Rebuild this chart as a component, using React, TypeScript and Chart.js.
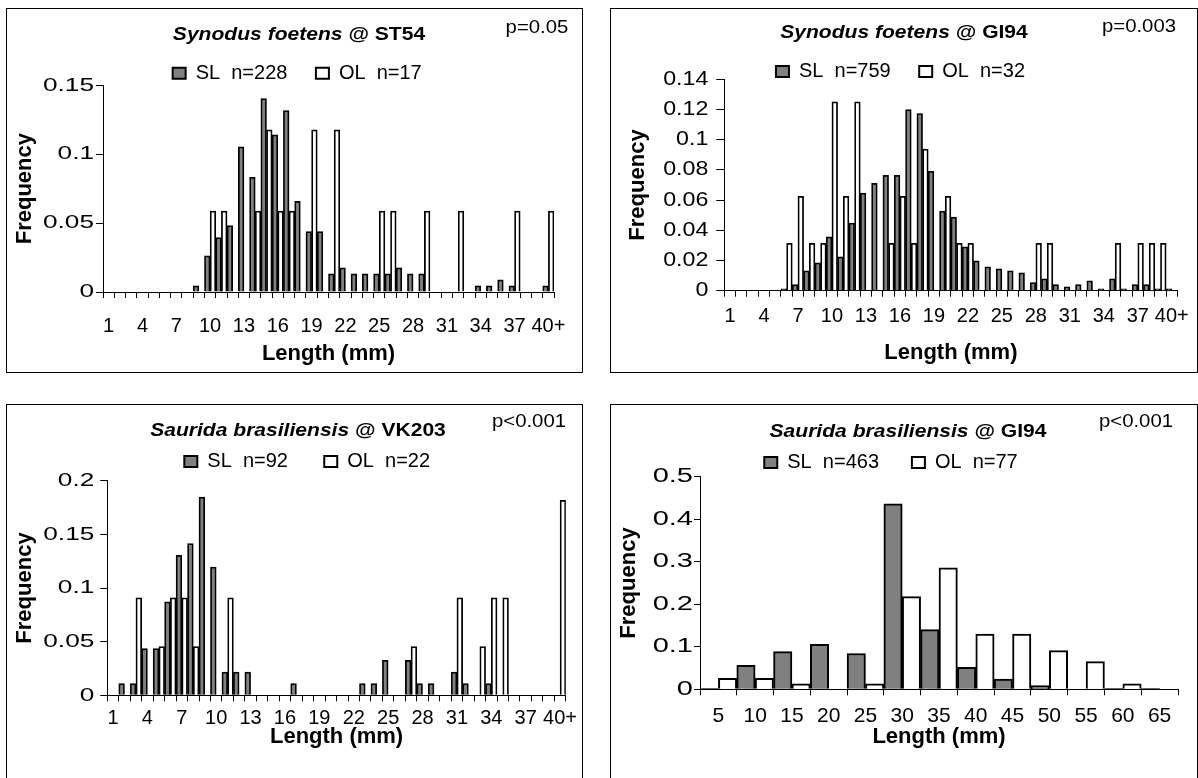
import { useEffect, useRef } from 'react';
import { Chart, registerables } from 'chart.js';

Chart.register(...registerables);

const FONT = '"Liberation Sans", Arial, Helvetica, sans-serif';
Chart.defaults.font.family = FONT;
Chart.defaults.color = '#000';

// 1 mm length classes (last class open-ended)
const lengthBins = [
  '1', '2', '3', '4', '5', '6', '7', '8', '9', '10',
  '11', '12', '13', '14', '15', '16', '17', '18', '19', '20',
  '21', '22', '23', '24', '25', '26', '27', '28', '29', '30',
  '31', '32', '33', '34', '35', '36', '37', '38', '39', '40+',
];
// 5 mm length classes
const lengthBins5 = ['5', '10', '15', '20', '25', '30', '35', '40', '45', '50', '55', '60', '65'];

// Synodus foetens @ ST54
const st54SL = [
  0, 0, 0, 0, 0, 0, 0, 0, 0.0044, 0.0263,
  0.0395, 0.0482, 0.1053, 0.0833, 0.1404, 0.114, 0.1316, 0.0658, 0.0439, 0.0439,
  0.0132, 0.0175, 0.0132, 0.0132, 0.0132, 0.0132, 0.0175, 0.0132, 0.0132, 0,
  0, 0, 0, 0.0044, 0.0044, 0.0088, 0.0044, 0, 0, 0.0044,
];
const st54OL = [
  0, 0, 0, 0, 0, 0, 0, 0, 0, 0.0588,
  0.0588, 0, 0, 0.0588, 0.1176, 0.0588, 0.0588, 0, 0.1176, 0,
  0.1176, 0, 0, 0, 0.0588, 0.0588, 0, 0, 0.0588, 0,
  0, 0.0588, 0, 0, 0, 0, 0.0588, 0, 0, 0.0588,
];

// Synodus foetens @ GI94
const sfGi94SL = [
  0, 0, 0, 0, 0, 0.0013, 0.004, 0.0132, 0.0184, 0.0356,
  0.0224, 0.0448, 0.0646, 0.0711, 0.0764, 0.0764, 0.1199, 0.1173, 0.0791, 0.0527,
  0.0487, 0.029, 0.0198, 0.0158, 0.0145, 0.0132, 0.0119, 0.0053, 0.0079, 0.004,
  0.0026, 0.004, 0.0066, 0.0013, 0.0079, 0.0013, 0.004, 0.004, 0.0013, 0.0013,
];
const sfGi94OL = [
  0, 0, 0, 0, 0, 0.0313, 0.0625, 0.0313, 0.0313, 0.125,
  0.0625, 0.125, 0, 0, 0.0313, 0.0625, 0.0313, 0.0938, 0, 0.0625,
  0.0313, 0.0313, 0, 0, 0, 0, 0, 0.0313, 0.0313, 0,
  0, 0, 0, 0, 0.0313, 0, 0.0313, 0.0313, 0.0313, 0,
];

// Saurida brasiliensis @ VK203
const vk203SL = [
  0, 0.0109, 0.0109, 0.0435, 0.0435, 0.087, 0.1304, 0.1413, 0.1848, 0.1196,
  0.0217, 0.0217, 0.0217, 0, 0, 0, 0.0109, 0, 0, 0,
  0, 0, 0.0109, 0.0109, 0.0326, 0, 0.0326, 0.0109, 0.0109, 0,
  0.0217, 0.0109, 0, 0.0109, 0, 0, 0, 0, 0, 0,
];
const vk203OL = [
  0, 0, 0.0909, 0, 0.0455, 0.0909, 0.0909, 0.0455, 0, 0,
  0.0909, 0, 0, 0, 0, 0, 0, 0, 0, 0,
  0, 0, 0, 0, 0, 0, 0.0455, 0, 0, 0,
  0.0909, 0, 0.0455, 0.0909, 0.0909, 0, 0, 0, 0, 0.1818,
];

// Saurida brasiliensis @ GI94
const sbGi94SL = [0.0022, 0.0562, 0.0886, 0.1058, 0.0842, 0.4363, 0.1404, 0.0518, 0.0238, 0.0086, 0, 0.0022, 0.0022];
const sbGi94OL = [0.026, 0.026, 0.013, 0, 0.013, 0.218, 0.2857, 0.1299, 0.1299, 0.0909, 0.0649, 0.013, 0];

// Centres the legend row on a chosen x position.
const legendShift = {
  id: 'legendShift',
  afterLayout(chart: any, _args: any, opts: any) {
    const lg = chart.legend;
    if (!lg || typeof opts.center !== 'number') return;
    const dx = opts.center - (lg.left + lg.right) / 2;
    lg.left += dx;
    lg.right += dx;
  },
};

// Widens the value-axis tick labels horizontally, anchored at their right edge.
const wideTicks = {
  id: 'wideTicks',
  beforeDraw(chart: any, _args: any, opts: any) {
    const ys = chart.scales.y;
    if (!ys || ys.$wide) return;
    const plain = ys.drawLabels.bind(ys);
    ys.drawLabels = (area: any) => {
      const ctx = chart.ctx;
      const edge = ys.right - ys.options.grid.tickLength - ys.options.ticks.padding;
      ctx.save();
      ctx.translate(edge, 0);
      ctx.scale(opts.factor || 1, 1);
      ctx.translate(-edge, 0);
      plain(area);
      ctx.restore();
    };
    ys.$wide = true;
  },
};

type PanelSpec = {
  key: string;
  box: number[];
  species: string;
  station: string;
  pText: string;
  labels: string[];
  labelEvery: number;
  sl: number[];
  ol: number[];
  slName: string;
  olName: string;
  yMax: number;
  yStep: number;
  pad: { left: number; right: number; top: number; bottom: number };
  legendPad: number;
  legendHeight: number;
  legendCenter: number;
  yWidth: number;
  yTitlePad: number;
  yFont: number;
  yStretch: number;
  yTickLen: number;
  yTickPad: number;
  xHeight: number;
  xTickPad: number;
  xFont: number;
  border: number;
  titleX: number;
  titleBase: number;
  pX: number;
  pBase: number;
};

const panels: PanelSpec[] = [
  {
    key: 'st54', box: [6, 8, 577, 365],
    species: 'Synodus foetens', station: 'ST54', pText: 'p=0.05',
    labels: lengthBins, labelEvery: 3, sl: st54SL, ol: st54OL,
    slName: 'SL  n=228', olName: 'OL  n=17',
    yMax: 0.15, yStep: 0.05,
    pad: { left: 0, right: 12.7, top: 25.7, bottom: 4.6 },
    legendPad: 28.5, legendHeight: 50.6, legendCenter: 290.2,
    yWidth: 96, yTitlePad: 4.8, yFont: 19, yStretch: 1.38, yTickLen: 7, yTickPad: 2,
    xHeight: 75.4, xTickPad: 16.5, xFont: 20, border: 1.75,
    titleX: 291.5, titleBase: 31, pX: 529.7, pBase: 24.3,
  },
  {
    key: 'sfgi94', box: [610, 8, 588, 365],
    species: 'Synodus foetens', station: 'GI94', pText: 'p=0.003',
    labels: lengthBins, labelEvery: 3, sl: sfGi94SL, ol: sfGi94OL,
    slName: 'SL  n=759', olName: 'OL  n=32',
    yMax: 0.14, yStep: 0.02,
    pad: { left: 0, right: 18.7, top: 24, bottom: 5.5 },
    legendPad: 28.5, legendHeight: 46.3, legendCenter: 289.5,
    yWidth: 113.3, yTitlePad: 13.3, yFont: 20, yStretch: 1.16, yTickLen: 8, yTickPad: 8,
    xHeight: 75.8, xTickPad: 8, xFont: 20, border: 1.75,
    titleX: 293, titleBase: 29.3, pX: 528.2, pBase: 22.7,
  },
  {
    key: 'vk203', box: [6, 404, 577, 375],
    species: 'Saurida brasiliensis', station: 'VK203', pText: 'p<0.001',
    labels: lengthBins, labelEvery: 3, sl: vk203SL, ol: vk203OL,
    slName: 'SL  n=92', olName: 'OL  n=22',
    yMax: 0.2, yStep: 0.05,
    pad: { left: 0, right: 12.7, top: 10.2, bottom: 27.5 },
    legendPad: 36.3, legendHeight: 65.5, legendCenter: 300.2,
    yWidth: 100.3, yTitlePad: 4.8, yFont: 19, yStretch: 1.38, yTickLen: 7, yTickPad: 6,
    xHeight: 55.2, xTickPad: 4.8, xFont: 20, border: 1.75,
    titleX: 290.5, titleBase: 31, pX: 522.2, pBase: 21.7,
  },
  {
    key: 'sbgi94', box: [610, 404, 588, 375],
    species: 'Saurida brasiliensis', station: 'GI94', pText: 'p<0.001',
    labels: lengthBins5, labelEvery: 1, sl: sbGi94SL, ol: sbGi94OL,
    slName: 'SL  n=463', olName: 'OL  n=77',
    yMax: 0.5, yStep: 0.1,
    pad: { left: 0, right: 19, top: 14.6, bottom: 28.1 },
    legendPad: 32.9, legendHeight: 57.1, legendCenter: 280,
    yWidth: 89, yTitlePad: 4.8, yFont: 20, yStretch: 1.45, yTickLen: 6, yTickPad: 1,
    xHeight: 60.6, xTickPad: 7.9, xFont: 21, border: 2,
    titleX: 296.5, titleBase: 31.7, pX: 525, pBase: 21.7,
  },
];

function HistogramPanel({ p }: { p: PanelSpec }) {
  const ref = useRef<HTMLCanvasElement>(null);
  const [left, top, width, height] = p.box;

  useEffect(() => {
    const canvas = ref.current;
    if (!canvas) return;
    const chart = new Chart(canvas, {
      type: 'bar',
      data: {
        labels: p.labels,
        datasets: [
          {
            label: p.slName, data: p.sl, backgroundColor: '#808080', borderColor: '#000',
            borderWidth: p.border, categoryPercentage: 1, barPercentage: 1,
          },
          {
            label: p.olName, data: p.ol, backgroundColor: '#ffffff', borderColor: '#000',
            borderWidth: p.border, categoryPercentage: 1, barPercentage: 1,
          },
        ],
      },
      options: {
        responsive: false,
        animation: false,
        devicePixelRatio: 1,
        events: [],
        layout: { padding: p.pad },
        plugins: {
          tooltip: { enabled: false },
          legend: {
            position: 'top',
            maxHeight: p.legendHeight,
            labels: {
              color: '#000',
              font: { size: 20 },
              boxWidth: 13,
              boxHeight: 11,
              padding: p.legendPad,
              generateLabels: (c: any) =>
                Chart.defaults.plugins.legend.labels
                  .generateLabels(c)
                  .map((it: any) => ({ ...it, lineWidth: 2, strokeStyle: '#000' })),
            },
          },
          legendShift: { center: p.legendCenter },
          wideTicks: { factor: p.yStretch },
        },
        scales: {
          x: {
            type: 'category',
            offset: true,
            grid: { offset: true, drawOnChartArea: false, drawTicks: true, tickLength: 6, color: '#000', lineWidth: 1 },
            border: { display: true, color: '#000', width: 1 },
            ticks: {
              autoSkip: false, maxRotation: 0, minRotation: 0,
              padding: p.xTickPad, color: '#000', font: { size: p.xFont },
              callback: (_v: any, i: number) => (i % p.labelEvery === 0 ? p.labels[i] : ''),
            },
            title: { display: true, text: 'Length (mm)', color: '#000', font: { size: 22, weight: 'bold' }, padding: 0 },
            afterFit: (s: any) => { s.height = p.xHeight; },
          },
          y: {
            min: 0,
            max: p.yMax,
            grid: { drawOnChartArea: false, drawTicks: true, tickLength: p.yTickLen, color: '#000', lineWidth: 1 },
            border: { display: true, color: '#000', width: 1 },
            ticks: {
              stepSize: p.yStep, padding: p.yTickPad, color: '#000', font: { size: p.yFont },
              callback: (v: any) => String(Number(Number(v).toFixed(4))),
            },
            title: {
              display: true, text: 'Frequency', color: '#000',
              font: { size: 22, weight: 'bold' }, padding: { top: p.yTitlePad, bottom: 0 },
            },
            afterFit: (s: any) => { s.width = p.yWidth; },
          },
        },
      } as any,
      plugins: [legendShift, wideTicks],
    });
    return () => chart.destroy();
  }, [p]);

  return (
    <div
      style={{
        position: 'absolute', left, top, width, height,
        border: '1px solid #000', boxSizing: 'border-box', background: '#fff',
      }}
    >
      <canvas ref={ref} width={width - 2} height={height - 2} style={{ position: 'absolute', left: 0, top: 0 }} />
      <div
        style={{
          position: 'absolute', left: p.titleX, top: p.titleBase - 15.2,
          transform: 'translateX(-50%) scaleX(1.17)', whiteSpace: 'nowrap',
          font: `bold 18px/18px ${FONT}`, color: '#000',
        }}
      >
        <i>{p.species}</i> @ {p.station}
      </div>
      <div
        style={{
          position: 'absolute', left: p.pX, top: p.pBase - 15.2,
          transform: 'translateX(-50%) scaleX(1.13)', whiteSpace: 'nowrap',
          font: `18px/18px ${FONT}`, color: '#000',
        }}
      >
        {p.pText}
      </div>
    </div>
  );
}

export default function App() {
  return (
    <div
      style={{
        position: 'fixed', left: 0, top: 0, width: 1198, height: 778,
        overflow: 'hidden', background: '#fff',
      }}
    >
      {panels.map((p) => (
        <HistogramPanel key={p.key} p={p} />
      ))}
    </div>
  );
}
